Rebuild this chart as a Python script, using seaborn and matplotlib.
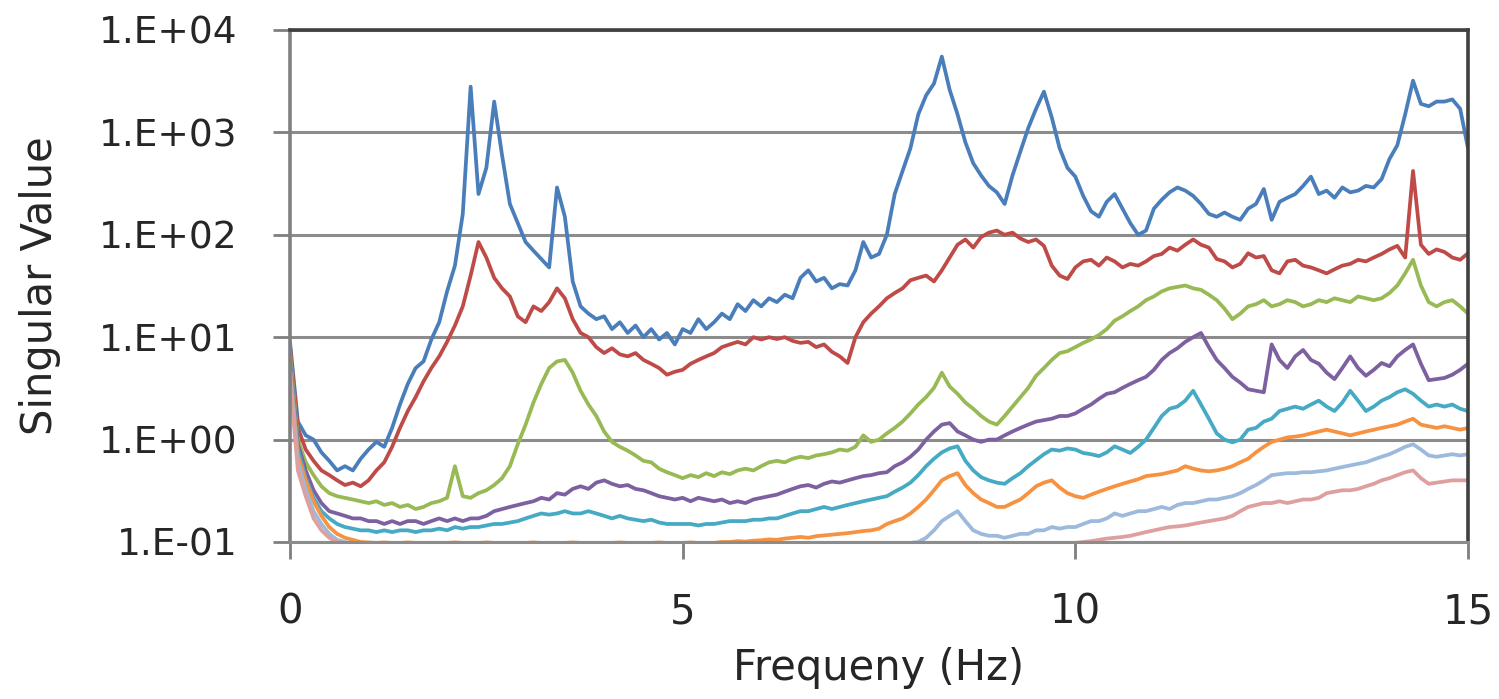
import numpy as np
import pandas as pd
import matplotlib
matplotlib.use("Agg")
import matplotlib.pyplot as plt
import seaborn as sns

# ---------------- data ----------------
freq = np.round(np.arange(0, 151) * 0.1, 1)  # 0.0 ... 15.0 Hz

sv1 = [
    9.0, 1.5, 1.1, 1.0, 0.75, 0.62, 0.5, 0.55, 0.5, 0.65,
    0.8, 0.95, 0.85, 1.3, 2.2, 3.5, 5.0, 5.8, 9.5, 14,
    28, 50, 160, 2800, 250, 450, 2000, 600, 200, 130,
    85, 70, 58, 48, 290, 150, 35, 20, 17, 15,
    16, 12, 14, 11, 13, 10, 12, 9.5, 11, 8.5,
    12, 11, 15, 12, 14, 17, 15, 21, 18, 23,
    20, 24, 22, 26, 24, 38, 45, 35, 38, 30,
    33, 32, 45, 85, 60, 65, 100, 250, 420, 700,
    1500, 2300, 3000, 5500, 2600, 1500, 800, 500, 380, 300,
    260, 200, 380, 650, 1100, 1700, 2500, 1400, 700, 450,
    370, 240, 170, 150, 210, 250, 180, 130, 100, 110,
    180, 220, 260, 290, 270, 240, 200, 160, 150, 165,
    150, 140, 180, 200, 280, 140, 210, 230, 250, 300,
    370, 250, 270, 230, 290, 260, 270, 300, 290, 350,
    550, 750, 1500, 3200, 1900, 1800, 2000, 2000, 2100, 1700,
    700]

sv2 = [
    8.0, 1.3, 0.8, 0.62, 0.5, 0.45, 0.4, 0.36, 0.38, 0.35,
    0.4, 0.5, 0.6, 0.85, 1.3, 1.9, 2.6, 3.7, 5.0, 6.5,
    9.0, 13, 20, 40, 85, 60, 38, 30, 25, 16,
    14, 20, 18, 22, 30, 24, 15, 11, 10, 8.0,
    7.0, 7.8, 6.8, 6.5, 7.0, 6.0, 5.5, 5.0, 4.3, 4.6,
    4.8, 5.5, 6.0, 6.5, 7.0, 8.0, 8.5, 9.0, 8.5, 10,
    9.5, 10, 9.6, 10, 9.2, 8.8, 9.0, 8.0, 8.5, 7.2,
    6.5, 5.6, 10, 14, 17, 20, 24, 27, 30, 36,
    38, 40, 35, 45, 60, 80, 90, 75, 95, 105,
    110, 100, 105, 92, 85, 90, 78, 50, 40, 37,
    48, 55, 57, 50, 60, 55, 48, 52, 50, 55,
    62, 65, 75, 70, 80, 90, 80, 75, 58, 55,
    48, 52, 66, 60, 62, 45, 42, 55, 57, 50,
    48, 45, 42, 46, 50, 52, 57, 55, 60, 65,
    72, 78, 60, 420, 80, 65, 72, 68, 60, 57,
    66]

sv3 = [
    7.0, 1.0, 0.6, 0.45, 0.35, 0.3, 0.28, 0.27, 0.26, 0.25,
    0.24, 0.25, 0.23, 0.24, 0.22, 0.23, 0.21, 0.22, 0.24, 0.25,
    0.27, 0.55, 0.28, 0.27, 0.3, 0.32, 0.36, 0.42, 0.55, 0.9,
    1.4, 2.3, 3.5, 5.0, 5.8, 6.0, 4.5, 3.0, 2.2, 1.7,
    1.2, 0.95, 0.85, 0.78, 0.7, 0.62, 0.6, 0.52, 0.48, 0.45,
    0.42, 0.45, 0.43, 0.47, 0.44, 0.48, 0.46, 0.5, 0.52, 0.5,
    0.55, 0.6, 0.62, 0.6, 0.65, 0.68, 0.66, 0.7, 0.72, 0.75,
    0.8, 0.78, 0.85, 1.1, 0.95, 1.0, 1.15, 1.3, 1.5, 1.8,
    2.2, 2.6, 3.2, 4.5, 3.3, 2.8, 2.3, 2.0, 1.7, 1.5,
    1.4, 1.7, 2.1, 2.6, 3.2, 4.2, 5.0, 6.0, 7.0, 7.3,
    8.0, 8.8, 9.5, 10.5, 12, 14.5, 16, 18, 20, 23,
    25, 28, 30, 31, 32, 30, 29, 26, 23, 19,
    15, 17, 20, 21, 23, 20, 21, 23, 22, 20,
    21, 23, 22, 24, 23, 22, 25, 24, 23, 24,
    27, 32, 42, 57, 32, 22, 20, 22, 23, 20,
    17]

sv4 = [
    6.0, 0.9, 0.5, 0.32, 0.24, 0.2, 0.19, 0.18, 0.17, 0.17,
    0.16, 0.16, 0.15, 0.16, 0.15, 0.16, 0.16, 0.15, 0.16, 0.17,
    0.16, 0.17, 0.16, 0.17, 0.17, 0.18, 0.2, 0.21, 0.22, 0.23,
    0.24, 0.25, 0.27, 0.26, 0.3, 0.29, 0.33, 0.35, 0.33, 0.38,
    0.4, 0.37, 0.35, 0.36, 0.33, 0.32, 0.3, 0.28, 0.27, 0.26,
    0.27, 0.25, 0.27, 0.26, 0.25, 0.26, 0.24, 0.25, 0.24, 0.26,
    0.27, 0.28, 0.29, 0.31, 0.33, 0.35, 0.36, 0.34, 0.37, 0.39,
    0.38, 0.4, 0.42, 0.44, 0.45, 0.47, 0.48, 0.55, 0.6, 0.68,
    0.8, 1.0, 1.2, 1.4, 1.45, 1.2, 1.1, 1.0, 0.95, 1.0,
    1.0, 1.1, 1.2, 1.3, 1.4, 1.5, 1.55, 1.6, 1.7, 1.7,
    1.8, 2.0, 2.2, 2.5, 2.8, 2.9, 3.2, 3.5, 3.8, 4.1,
    4.8, 6.0, 7.0, 7.8, 9.0, 10, 11, 8.0, 6.0, 5.0,
    4.1, 3.6, 3.1, 3.0, 2.9, 8.5, 6.0, 5.0, 6.5, 7.5,
    6.0, 5.5, 4.5, 3.9, 5.0, 6.5, 5.0, 4.2, 4.8, 5.6,
    5.2, 6.5, 7.5, 8.5, 5.5, 3.8, 3.9, 4.0, 4.3, 4.8,
    5.5]

sv5 = [
    5.5, 0.8, 0.42, 0.27, 0.2, 0.17, 0.15, 0.14, 0.135, 0.13,
    0.13, 0.125, 0.13, 0.125, 0.13, 0.13, 0.125, 0.13, 0.13, 0.135,
    0.13, 0.14, 0.135, 0.14, 0.14, 0.145, 0.15, 0.15, 0.155, 0.16,
    0.17, 0.18, 0.19, 0.185, 0.19, 0.2, 0.19, 0.19, 0.2, 0.19,
    0.18, 0.17, 0.18, 0.17, 0.165, 0.16, 0.165, 0.155, 0.15, 0.15,
    0.15, 0.15, 0.145, 0.15, 0.15, 0.155, 0.16, 0.16, 0.16, 0.165,
    0.165, 0.17, 0.17, 0.18, 0.19, 0.2, 0.2, 0.21, 0.22, 0.21,
    0.22, 0.23, 0.24, 0.25, 0.26, 0.27, 0.28, 0.31, 0.34, 0.38,
    0.45, 0.55, 0.65, 0.75, 0.82, 0.86, 0.62, 0.5, 0.43, 0.4,
    0.38, 0.37, 0.42, 0.47, 0.55, 0.63, 0.72, 0.8, 0.78, 0.82,
    0.8, 0.74, 0.72, 0.69, 0.75, 0.86, 0.8, 0.74, 0.85, 1.0,
    1.3, 1.7, 2.0, 2.1, 2.4, 3.0, 2.2, 1.6, 1.15, 1.0,
    0.94, 1.0, 1.25, 1.3, 1.5, 1.6, 1.9, 2.0, 2.1, 2.0,
    2.2, 2.4, 2.1, 1.9, 2.3, 3.0, 2.4, 1.9, 2.1, 2.4,
    2.6, 2.9, 3.1, 2.8, 2.4, 2.1, 2.2, 2.1, 2.2, 2.0,
    1.9]

sv6 = [
    5.0, 0.7, 0.4, 0.25, 0.18, 0.14, 0.12, 0.11, 0.105, 0.1,
    0.099, 0.098, 0.099, 0.098, 0.098, 0.099, 0.098, 0.097, 0.098, 0.098,
    0.098, 0.099, 0.098, 0.097, 0.098, 0.099, 0.098, 0.098, 0.097, 0.098,
    0.098, 0.099, 0.098, 0.098, 0.097, 0.098, 0.099, 0.098, 0.098, 0.097,
    0.098, 0.098, 0.099, 0.098, 0.097, 0.098, 0.098, 0.099, 0.098, 0.098,
    0.098, 0.099, 0.098, 0.098, 0.098, 0.1, 0.1, 0.102, 0.101, 0.103,
    0.104, 0.106, 0.105, 0.108, 0.11, 0.112, 0.11, 0.114, 0.116, 0.118,
    0.12, 0.122, 0.125, 0.128, 0.13, 0.135, 0.15, 0.16, 0.17, 0.19,
    0.22, 0.26, 0.32, 0.4, 0.44, 0.47, 0.36, 0.3, 0.26, 0.24,
    0.22, 0.22, 0.24, 0.26, 0.3, 0.35, 0.38, 0.4, 0.34, 0.3,
    0.28, 0.27, 0.29, 0.31, 0.33, 0.35, 0.37, 0.39, 0.41, 0.44,
    0.45, 0.46, 0.48, 0.5, 0.55, 0.52, 0.5, 0.49, 0.5, 0.52,
    0.55, 0.6, 0.65, 0.75, 0.85, 0.95, 1.0, 1.05, 1.07, 1.1,
    1.15, 1.2, 1.25, 1.2, 1.15, 1.1, 1.15, 1.2, 1.25, 1.3,
    1.35, 1.4, 1.5, 1.6, 1.4, 1.35, 1.3, 1.35, 1.3, 1.25,
    1.3]

sv7 = [
    4.5, 0.6, 0.33, 0.2, 0.15, 0.12, 0.105, 0.1, 0.097, 0.096,
    0.095, 0.095, 0.095, 0.095, 0.095, 0.095, 0.095, 0.095, 0.095, 0.095,
    0.095, 0.095, 0.095, 0.095, 0.095, 0.095, 0.095, 0.095, 0.095, 0.095,
    0.095, 0.095, 0.095, 0.095, 0.095, 0.095, 0.095, 0.095, 0.095, 0.095,
    0.095, 0.095, 0.095, 0.095, 0.095, 0.095, 0.095, 0.095, 0.095, 0.095,
    0.095, 0.095, 0.095, 0.095, 0.095, 0.095, 0.095, 0.095, 0.095, 0.095,
    0.095, 0.095, 0.095, 0.095, 0.095, 0.095, 0.095, 0.095, 0.095, 0.095,
    0.095, 0.095, 0.095, 0.095, 0.095, 0.095, 0.095, 0.096, 0.097, 0.098,
    0.1, 0.11, 0.13, 0.16, 0.18, 0.2, 0.16, 0.13, 0.12, 0.115,
    0.115, 0.11, 0.115, 0.12, 0.12, 0.13, 0.13, 0.14, 0.135, 0.14,
    0.14, 0.15, 0.16, 0.16, 0.17, 0.19, 0.18, 0.19, 0.2, 0.2,
    0.21, 0.22, 0.21, 0.23, 0.24, 0.24, 0.25, 0.26, 0.26, 0.27,
    0.28, 0.3, 0.33, 0.36, 0.4, 0.45, 0.46, 0.47, 0.47, 0.48,
    0.48, 0.49, 0.5, 0.52, 0.54, 0.56, 0.58, 0.6, 0.64, 0.68,
    0.72, 0.78, 0.85, 0.9, 0.8, 0.7, 0.68, 0.7, 0.72, 0.7,
    0.72]

sv8 = [
    4.0, 0.5, 0.28, 0.17, 0.13, 0.11, 0.1, 0.097, 0.096, 0.095,
    0.095, 0.095, 0.095, 0.095, 0.095, 0.095, 0.095, 0.095, 0.095, 0.095,
    0.095, 0.095, 0.095, 0.095, 0.095, 0.095, 0.095, 0.095, 0.095, 0.095,
    0.095, 0.095, 0.095, 0.095, 0.095, 0.095, 0.095, 0.095, 0.095, 0.095,
    0.095, 0.095, 0.095, 0.095, 0.095, 0.095, 0.095, 0.095, 0.095, 0.095,
    0.095, 0.095, 0.095, 0.095, 0.095, 0.095, 0.095, 0.095, 0.095, 0.095,
    0.095, 0.095, 0.095, 0.095, 0.095, 0.095, 0.095, 0.095, 0.095, 0.095,
    0.095, 0.095, 0.095, 0.095, 0.095, 0.095, 0.095, 0.095, 0.095, 0.095,
    0.095, 0.095, 0.095, 0.095, 0.096, 0.097, 0.096, 0.095, 0.095, 0.095,
    0.095, 0.095, 0.095, 0.095, 0.095, 0.095, 0.095, 0.095, 0.096, 0.097,
    0.098, 0.1, 0.102, 0.105, 0.108, 0.11, 0.112, 0.115, 0.12, 0.125,
    0.13, 0.135, 0.14, 0.142, 0.145, 0.15, 0.155, 0.16, 0.165, 0.17,
    0.18, 0.2, 0.22, 0.23, 0.24, 0.24, 0.25, 0.24, 0.25, 0.26,
    0.26, 0.27, 0.3, 0.31, 0.32, 0.32, 0.33, 0.35, 0.37, 0.4,
    0.42, 0.45, 0.48, 0.5, 0.42, 0.37, 0.38, 0.39, 0.4, 0.4,
    0.4]

series_names = ["SV1", "SV2", "SV3", "SV4", "SV5", "SV6", "SV7", "SV8"]
series_values = [sv1, sv2, sv3, sv4, sv5, sv6, sv7, sv8]
series_colors = ["#4A7EBB", "#BE4B48", "#98B954", "#7D60A0",
                 "#46AAC5", "#F69240", "#9DB9DC", "#DDA09E"]

ytick_vals = [0.1, 1, 10, 100, 1000, 10000]
ytick_labels = ["1.E-01", "1.E+00", "1.E+01", "1.E+02", "1.E+03", "1.E+04"]
xtick_vals = [0, 5, 10, 15]

# ---------------- build table ----------------
frames = []
for name, vals in zip(series_names, series_values):
    assert len(vals) == len(freq), name
    frames.append(pd.DataFrame({"Frequency": freq, "Value": vals, "Series": name}))
df = pd.concat(frames, ignore_index=True)

# ---------------- draw ----------------
sns.set_style("white")
plt.rcParams["font.family"] = ["DejaVu Sans"]

fig = plt.figure(figsize=(14.99, 6.99), dpi=100)
ax = fig.add_axes([290 / 1499, 1 - 542 / 699, (1468 - 290) / 1499, (542 - 30) / 699])

ax.set_yscale("log")
ax.set_axisbelow(True)
ax.yaxis.grid(True, color="#8C8C8C", linewidth=2.2)
ax.xaxis.grid(False)

sns.lineplot(data=df, x="Frequency", y="Value", hue="Series",
             hue_order=series_names, palette=series_colors,
             legend=False, linewidth=2.7, estimator=None, sort=False, ax=ax)

ax.set_xlim(0, 15)
ax.set_ylim(0.1, 10000)
ax.set_yticks(ytick_vals)
ax.set_yticklabels(ytick_labels)
ax.yaxis.set_minor_locator(matplotlib.ticker.NullLocator())
ax.set_xticks(xtick_vals)
ax.set_xticklabels([str(v) for v in xtick_vals])

ax.tick_params(axis="y", which="major", direction="out", length=12, width=2,
               color="#7F7F7F", labelsize=27, labelcolor="#262626", pad=26, left=True)
ax.tick_params(axis="x", which="major", direction="out", length=12, width=2,
               color="#7F7F7F", labelsize=29, labelcolor="#262626", pad=24, bottom=True)

for side in ["top", "right"]:
    ax.spines[side].set_color("#404040")
    ax.spines[side].set_linewidth(2.6)
ax.spines["left"].set_color("#808080")
ax.spines["left"].set_linewidth(2.6)
ax.spines["bottom"].set_color("#8C8C8C")
ax.spines["bottom"].set_linewidth(2.2)

ax.set_xlabel("Frequeny (Hz)", fontsize=30, color="#262626", labelpad=11)
ax.set_ylabel("Singular Value", fontsize=30, color="#262626", labelpad=27)

fig.savefig("out.png", dpi=100, facecolor="white")
